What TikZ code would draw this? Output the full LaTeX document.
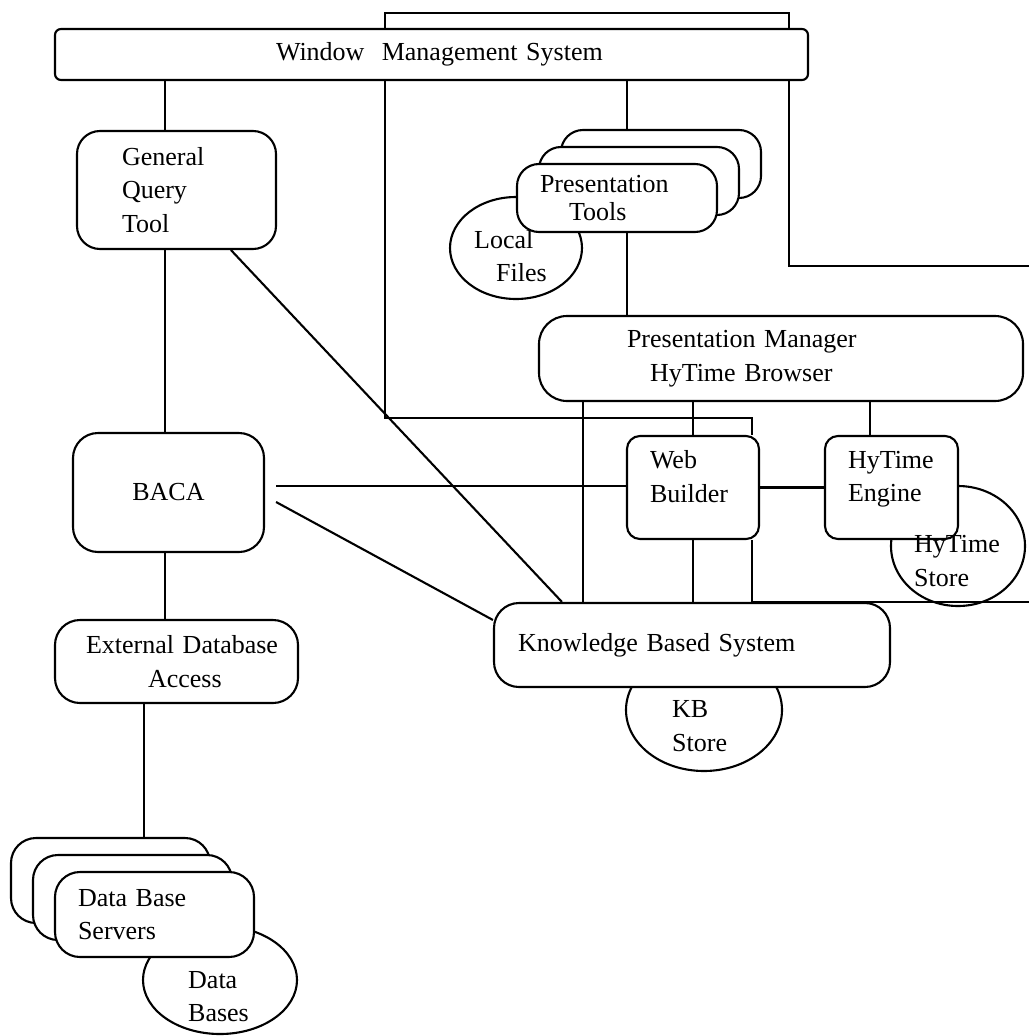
\documentclass[tikz,border=0pt]{standalone}
\usepackage{fontspec}
\setmainfont{Liberation Serif}
\usetikzlibrary{calc,shapes.geometric,backgrounds}
\begin{document}
\begin{tikzpicture}[x=1pt,y=-1pt]
        \tikzstyle{line} = [line width=2.1pt]
        \tikzstyle{rec} = [rectangle, draw=black, line width=2.1pt, fill=white, rounded corners=25pt, inner sep=0pt, align=left, font=\fontsize{26}{33.5}\selectfont]
        \tikzstyle{store} = [ellipse, draw=black, line width=2.1pt, inner sep=0pt]
        \tikzstyle{storetext} = [inner sep=0pt, align=left, anchor=west, font=\fontsize{26}{33.5}\selectfont]

        \useasboundingbox (0,0) rectangle (1029,1036);

        % stores lie behind their boxes
        \node(localfiles) [store, minimum width=132pt, minimum height=102pt] at (516,248) {};
        \node(hystore) [store, minimum width=134pt, minimum height=120pt] at (958,546) {};
        \node(kbstore) [store, minimum width=156pt, minimum height=122pt] at (704,710) {};
        \node(dbstore) [store, minimum width=154pt, minimum height=108pt] at (220,980) {};

        \node(wms) [rec, rounded corners=6pt, text width=753pt, minimum height=51pt] at (431.5,54.5) {\hspace*{221pt}Window\ \ Management System};
        \node(gqt) [rec, rounded corners=23pt, text width=199pt, minimum height=118pt] at (176.5,190) {\hspace*{45pt}General\\\hspace*{45pt}Query\\\hspace*{45pt}Tool};
        \node(baca) [rec, align=center, text width=191pt, minimum height=119pt] at (168.5,492.5) {BACA};
        \node(eda) [rec, text width=243pt, minimum height=83pt] at (176.5,661.5) {\hspace*{31pt}External Database\\\hspace*{93pt}Access};

        \coordinate(dbspos) at (154.5,914.5);
        \node(dbsback) [rec, minimum width=199pt, minimum height=85pt] at ($(dbspos)+(-44,-34)$) {};
        \node(dbsmid) [rec, minimum width=199pt, minimum height=85pt] at ($(dbspos)+(-22,-17)$) {};
        \node(dbs) [rec, text width=199pt, minimum height=85pt] at (dbspos) {\hspace*{23pt}Data Base\\\hspace*{23pt}Servers};

        \coordinate(ptpos) at (617,198);
        \node(ptback) [rec, rounded corners=22pt, minimum width=200pt, minimum height=68pt] at ($(ptpos)+(44,-34)$) {};
        \node(ptmid) [rec, rounded corners=22pt, minimum width=200pt, minimum height=68pt] at ($(ptpos)+(22,-17)$) {};
        \node(pt) [rec, rounded corners=22pt, text width=200pt, minimum height=68pt] at (ptpos) {\hspace*{23pt}Presentation\\[-5.5pt]\hspace*{52pt}Tools};

        \node(pmhb) [rec, rounded corners=28pt, text width=484pt, minimum height=85pt] at (781,358.5) {\hspace*{88pt}Presentation Manager\\\hspace*{111pt}HyTime Browser};
        \node(wb) [rec, rounded corners=13pt, text width=132pt, minimum height=103pt, text depth=55.5pt] at (693,487.5) {\hspace*{23pt}Web\\\hspace*{23pt}Builder};
        \node(he) [rec, rounded corners=13pt, text width=133pt, minimum height=103pt, text depth=55.5pt] at (891.5,487.5) {\hspace*{23pt}HyTime\\\hspace*{23pt}Engine};
        \node(kbs) [rec, text width=396pt, minimum height=84pt] at (692,645) {\hspace*{24pt}Knowledge Based System};

        \node(localtext) [storetext] at (474,255.9) {Local\\\hspace*{22pt}Files};
        \node(hystoretext) [storetext] at (914,560.9) {HyTime\\Store};
        \node(kbstoretext) [storetext] at (672,726) {KB\\Store};
        \node(dbstoretext) [storetext] at (188,996.4) {Data\\Bases};

        % columns of the connectors
        \coordinate(colq) at (165,0);
        \coordinate(cole) at (144,0);
        \coordinate(colp) at (627,0);
        \coordinate(colk) at (583,0);
        \coordinate(colw) at (693,0);
        \coordinate(colh) at (870,0);
        \coordinate(loopl) at (385,13);
        \coordinate(loopr) at (789,13);
        \coordinate(bend) at (752,418);
        \coordinate(outa) at (1029,266);
        \coordinate(outb) at (1029,0);
        \coordinate(bacaA) at ($(baca.east)+(11,-6.5)$);
        \coordinate(bacaB) at ($(baca.east)+(11,9.5)$);

        \begin{scope}[on background layer]
        \draw[line] (wms.south -| colq) -- (gqt.north -| colq);
        \draw[line] (gqt.south -| colq) -- (baca.north -| colq);
        \draw[line] (baca.south -| colq) -- (eda.north -| colq);
        \draw[line] (eda.south -| cole) -- (dbsback.north -| cole);
        \draw[line] ($(gqt.south west)+(155,0)$) -- ($(kbs.north west)+(69,0)$);
        \draw[line] (bacaA) -- (bacaA -| wb.west);
        \draw[line] (bacaB) -- ($(kbs.west)+(0,-25)$);
        \draw[line] (wb.east) -- (he.west);
        \draw[line] (wms.south -| colp) -- (ptback.north -| colp);
        \draw[line] (pt.south -| colp) -- (pmhb.north -| colp);
        \draw[line] (pmhb.south -| colk) -- (kbs.north -| colk);
        \draw[line] (pmhb.south -| colw) -- (wb.north);
        \draw[line] (wb.south) -- (kbs.north -| colw);
        \draw[line] (pmhb.south -| colh) -- (he.north -| colh);
        \draw[line] (wms.north -| loopl) -- (loopl) -- (loopr) -- (wms.north -| loopr);
        \draw[line] (wms.south -| loopl) |- (bend) -- (wb.north -| bend);
        \draw[line] (wb.south -| bend) -- (kbs.north -| bend) -- (kbs.north -| outb);
        \draw[line] (wms.south -| loopr) |- (outa);
        \end{scope}
    \end{tikzpicture}
\end{document}
